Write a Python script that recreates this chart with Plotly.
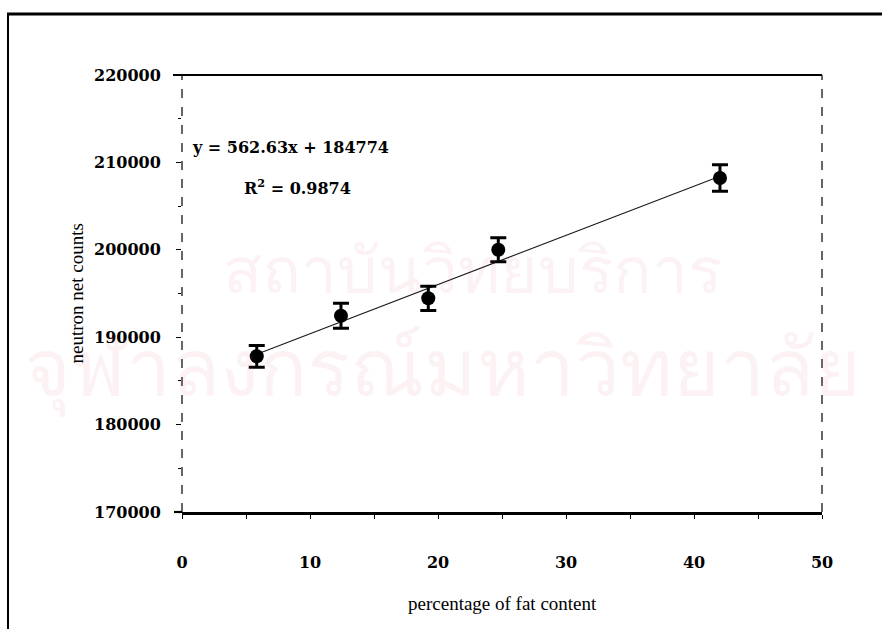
import plotly.graph_objects as go

# Data
fat_pct = [5.84, 12.42, 19.24, 24.71, 42.03]
net_counts = [187815, 192460, 194451, 200011, 208215]
count_err = [1240, 1430, 1390, 1370, 1520]

slope = 562.63
intercept = 184774
r_squared = 0.9874

x_ticks = [0, 10, 20, 30, 40, 50]
y_ticks = [170000, 180000, 190000, 200000, 210000, 220000]

watermark_lines = ["สถาบันวิทยบริการ", "จุฬาลงกรณ์มหาวิทยาลัย"]

W, H = 882, 629
L, R, T, B = 182, 60, 75, 117
PW, PH = W - L - R, H - T - B

def px(xp):
    return (xp - L) / PW

def py(yp):
    return (H - B - yp) / PH

fit_x = [fat_pct[0], fat_pct[-1]]
fit_y = [slope * v + intercept for v in fit_x]

fig = go.Figure()
fig.add_trace(go.Scatter(
    x=fit_x, y=fit_y, mode="lines",
    line=dict(color="#1a1a1a", width=1.1),
    hoverinfo="skip", showlegend=False))
fig.add_trace(go.Scatter(
    x=fat_pct, y=net_counts, mode="markers",
    marker=dict(color="black", size=14, symbol="circle"),
    error_y=dict(type="data", array=count_err, visible=True,
                 color="black", thickness=3, width=8),
    showlegend=False))

tick_font = dict(family="DejaVu Serif", size=16, color="black", weight="bold")

fig.update_xaxes(
    range=[0, 50], tickvals=x_ticks, ticktext=[str(v) for v in x_ticks],
    showline=True, linecolor="black", linewidth=2.5, mirror=False,
    ticks="outside", ticklen=4, tickwidth=1, tickcolor="black",
    minor=dict(dtick=5, ticks="outside", ticklen=4, tickcolor="black"),
    showgrid=False, zeroline=False, tickfont=tick_font, ticklabelstandoff=30)
fig.update_yaxes(
    range=[170000, 220000], tickvals=y_ticks, ticktext=[str(v) for v in y_ticks],
    showline=False, ticks="outside", ticklen=5, tickwidth=1.2, tickcolor="black",
    minor=dict(dtick=5000, ticks="outside", ticklen=3, tickcolor="black"),
    showgrid=False, zeroline=False, tickfont=tick_font, ticklabelstandoff=12)

shapes = [
    dict(type="line", xref="paper", yref="paper", x0=0, x1=0, y0=0, y1=1,
         line=dict(color="black", width=1.2, dash="dash")),
    dict(type="line", xref="paper", yref="paper", x0=1, x1=1, y0=0, y1=1,
         line=dict(color="black", width=1.2, dash="dash")),
    dict(type="line", xref="paper", yref="paper", x0=px(173), x1=1, y0=1, y1=1,
         line=dict(color="black", width=2.2)),
    dict(type="line", xref="paper", yref="paper", x0=px(174), x1=0, y0=0, y1=0,
         line=dict(color="black", width=2.2)),
    dict(type="line", xref="paper", yref="paper", x0=px(7), x1=px(882), y0=py(14), y1=py(14),
         line=dict(color="black", width=3)),
    dict(type="line", xref="paper", yref="paper", x0=px(8), x1=px(8), y0=py(14), y1=py(629),
         line=dict(color="black", width=2)),
]

eq_font = dict(family="DejaVu Serif", size=16, color="black", weight="bold")
wm_color = "rgba(215,90,120,0.08)"
annotations = [
    dict(x=px(472), y=py(268), xref="paper", yref="paper", xanchor="center", yanchor="middle",
         text=watermark_lines[0], showarrow=False,
         font=dict(family="Noto Sans, DejaVu Sans, sans-serif", size=64, color=wm_color)),
    dict(x=px(442), y=py(364), xref="paper", yref="paper", xanchor="center", yanchor="middle",
         text=watermark_lines[1], showarrow=False,
         font=dict(family="Noto Sans, DejaVu Sans, sans-serif", size=80, color=wm_color)),
    dict(x=px(190), y=py(147), xref="paper", yref="paper", xanchor="left", yanchor="middle",
         text=f"y = {slope}x + {intercept}", showarrow=False, font=eq_font),
    dict(x=px(297), y=py(187), xref="paper", yref="paper", xanchor="center", yanchor="middle",
         text=f"R<sup>2</sup> = {r_squared}", showarrow=False, font=eq_font),
    dict(x=0.5, y=py(603), xref="paper", yref="paper", xanchor="center", yanchor="middle",
         text="percentage of fat content", showarrow=False,
         font=dict(family="Liberation Serif", size=19, color="black")),
    dict(x=px(76), y=0.5, xref="paper", yref="paper", xanchor="center", yanchor="middle",
         text="neutron net counts", showarrow=False, textangle=-90,
         font=dict(family="Liberation Serif", size=19, color="black")),
]

fig.update_layout(
    width=W, height=H,
    margin=dict(l=L, r=R, t=T, b=B),
    paper_bgcolor="white", plot_bgcolor="rgba(0,0,0,0)",
    shapes=shapes, annotations=annotations,
    showlegend=False)

fig.write_html("out.html")
